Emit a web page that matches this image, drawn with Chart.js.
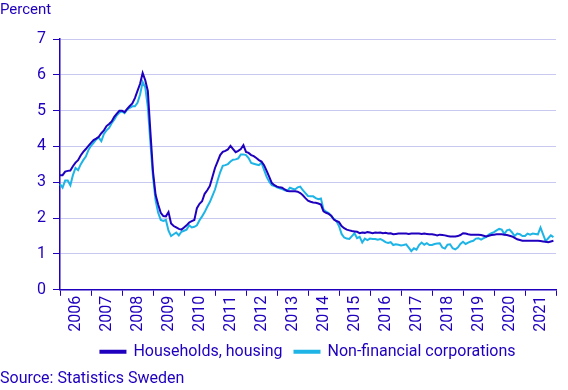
<!DOCTYPE html>
<html>
<head>
<meta charset="utf-8">
<script src="https://cdn.jsdelivr.net/npm/chart.js@4"></script>
<style>
  html, body { margin: 0; padding: 0; background: #fff; }
  #wrap { width: 568px; height: 390px; }
</style>
</head>
<body>
<div id="wrap"><canvas id="myChart" width="568" height="390"></canvas></div>
<script>
// tick labels on the x axis (one per year, Jan 2006 - Dec 2021, monthly data)
var years = ['2006','2007','2008','2009','2010','2011','2012','2013','2014','2015','2016','2017','2018','2019','2020','2021'];
var yTicks = [0, 1, 2, 3, 4, 5, 6, 7];

// Households, housing (percent), monthly
var households = [
  3.20,3.20,3.30,3.32,3.33,3.45,3.55,3.62,3.75,3.85,3.93,4.02,
  4.10,4.18,4.22,4.27,4.37,4.45,4.57,4.63,4.70,4.83,4.92,5.00,
  5.00,4.96,5.05,5.13,5.20,5.35,5.55,5.75,6.05,5.85,5.55,4.40,
  3.30,2.65,2.38,2.15,2.06,2.05,2.17,1.85,1.78,1.74,1.70,1.68,
  1.74,1.80,1.88,1.92,1.95,2.28,2.40,2.47,2.68,2.78,2.90,3.15,
  3.40,3.58,3.76,3.85,3.88,3.92,4.02,3.93,3.84,3.88,3.93,4.04,
  3.85,3.82,3.76,3.73,3.68,3.62,3.58,3.48,3.32,3.15,2.98,2.92,
  2.88,2.86,2.85,2.80,2.76,2.75,2.75,2.75,2.74,2.70,2.64,2.56,
  2.49,2.46,2.44,2.43,2.41,2.38,2.19,2.15,2.12,2.07,1.96,1.92,
  1.89,1.78,1.72,1.68,1.66,1.64,1.63,1.62,1.58,1.60,1.59,1.61,
  1.60,1.58,1.60,1.59,1.60,1.58,1.59,1.57,1.58,1.55,1.56,1.57,
  1.57,1.57,1.57,1.56,1.57,1.57,1.57,1.57,1.56,1.57,1.56,1.55,
  1.55,1.54,1.52,1.54,1.53,1.52,1.50,1.49,1.49,1.49,1.50,1.53,
  1.58,1.57,1.55,1.54,1.54,1.54,1.54,1.53,1.51,1.49,1.51,1.53,
  1.54,1.55,1.55,1.55,1.54,1.53,1.51,1.49,1.45,1.41,1.39,1.37,
  1.37,1.37,1.37,1.37,1.37,1.37,1.36,1.35,1.34,1.33,1.35,1.37
];

// Non-financial corporations (percent), monthly
var corporations = [
  2.95,2.85,3.05,3.05,2.92,3.20,3.40,3.34,3.50,3.62,3.72,3.90,
  4.02,4.10,4.20,4.25,4.15,4.35,4.45,4.52,4.65,4.75,4.87,4.95,
  4.98,4.93,5.03,5.08,5.12,5.12,5.22,5.45,5.80,5.65,5.10,4.10,
  3.15,2.50,2.15,1.95,1.92,1.95,1.65,1.50,1.55,1.60,1.52,1.62,
  1.65,1.68,1.80,1.74,1.76,1.80,1.94,2.05,2.17,2.32,2.45,2.62,
  2.80,3.05,3.28,3.46,3.48,3.51,3.58,3.63,3.64,3.67,3.78,3.78,
  3.76,3.68,3.54,3.52,3.50,3.48,3.55,3.35,3.15,3.02,2.92,2.90,
  2.86,2.83,2.81,2.78,2.76,2.85,2.82,2.80,2.86,2.88,2.78,2.70,
  2.62,2.61,2.61,2.56,2.53,2.55,2.24,2.18,2.14,2.06,1.98,1.92,
  1.78,1.56,1.46,1.43,1.42,1.50,1.58,1.44,1.48,1.32,1.43,1.39,
  1.43,1.42,1.42,1.40,1.42,1.38,1.33,1.31,1.33,1.25,1.27,1.26,
  1.24,1.25,1.27,1.18,1.08,1.16,1.12,1.25,1.32,1.26,1.30,1.25,
  1.25,1.28,1.29,1.30,1.18,1.15,1.26,1.27,1.16,1.13,1.18,1.28,
  1.34,1.28,1.32,1.35,1.37,1.43,1.44,1.40,1.44,1.48,1.54,1.58,
  1.61,1.66,1.70,1.68,1.56,1.66,1.68,1.60,1.50,1.57,1.55,1.50,
  1.50,1.57,1.54,1.57,1.56,1.55,1.74,1.55,1.36,1.44,1.52,1.47
];

var dark = '#1e00be';
var light = '#1eb4e6';
var grid = '#c8c8f0';

// one label per month, plus Jan 2022 so the last year tick closes the axis
var months = [];
for (var i = 0; i <= years.length * 12; i++) {
  months.push(i);
}

const ctx = document.getElementById('myChart');
new Chart(ctx, {
  type: 'line',
  data: {
    labels: months,
    datasets: [{
      label: 'Households, housing',
      data: households,
      borderColor: dark,
      backgroundColor: dark,
      borderWidth: 2,
      pointRadius: 0,
      tension: 0
    }, {
      label: 'Non-financial corporations',
      data: corporations,
      borderColor: light,
      backgroundColor: light,
      borderWidth: 2,
      pointRadius: 0,
      tension: 0
    }]
  },
  options: {
    responsive: false,
    animation: false,
    layout: { padding: { left: 0, right: 12, top: 0, bottom: 0 } },
    plugins: {
      title: {
        display: true,
        text: 'Percent',
        align: 'start',
        color: dark,
        font: { family: 'Roboto', size: 15, weight: 'normal' },
        padding: { top: 1, bottom: 20 }
      },
      subtitle: {
        display: true,
        text: 'Source: Statistics Sweden',
        position: 'bottom',
        align: 'start',
        color: dark,
        font: { family: 'Roboto', size: 16, weight: 'normal' },
        padding: { top: 0, bottom: 1 }
      },
      legend: {
        position: 'bottom',
        fullSize: false,
        labels: {
          color: dark,
          boxWidth: 25,
          boxHeight: 2,
          padding: 12,
          font: { family: 'Roboto', size: 16 }
        }
      },
      tooltip: { enabled: false }
    },
    scales: {
      x: {
        type: 'category',
        offset: false,
        afterFit: function (scale) { scale.paddingRight = 0; scale.paddingLeft = 0; },
        border: { color: dark, width: 1.5 },
        grid: {
          drawOnChartArea: false,
          tickLength: 6,
          tickColor: function (c) { return c.index % 12 === 0 ? dark : 'rgba(0,0,0,0)'; }
        },
        ticks: {
          autoSkip: false,
          maxRotation: 90,
          minRotation: 90,
          padding: 0,
          color: dark,
          font: { family: 'Roboto', size: 16 },
          callback: function (v, index) {
            return index % 12 === 6 ? years[Math.floor(index / 12)] : '';
          }
        }
      },
      y: {
        min: 0,
        max: 7,
        afterBuildTicks: function (scale) {
          scale.ticks = yTicks.map(function (v) { return { value: v }; });
        },
        afterFit: function (scale) { scale.width = 60; },
        border: { color: dark, width: 1.5 },
        grid: { color: grid, tickColor: dark, tickLength: 7 },
        ticks: {
          color: dark,
          padding: 7,
          font: { family: 'Roboto', size: 16 }
        }
      }
    }
  }
});
</script>
</body>
</html>
